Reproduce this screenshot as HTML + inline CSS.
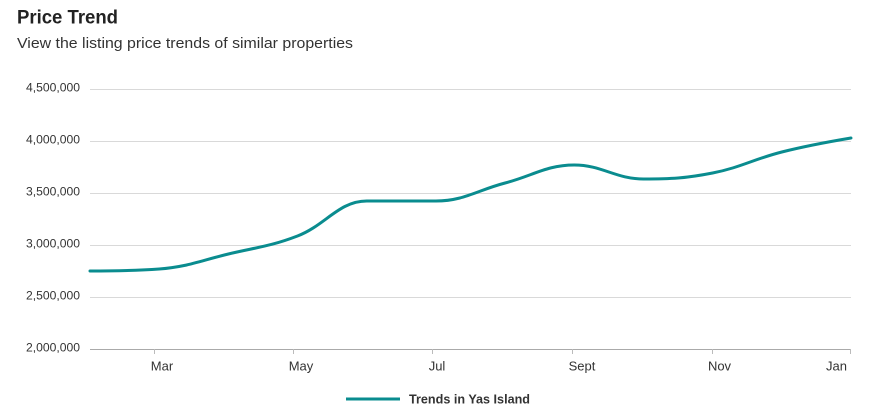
<!DOCTYPE html>
<html><head><meta charset="utf-8"><style>
html,body{margin:0;padding:0;background:#fff;}
svg{display:block;}
</style></head><body>
<svg width="870" height="420" viewBox="0 0 870 420" xmlns="http://www.w3.org/2000/svg" font-family="Liberation Sans, sans-serif">
<rect width="870" height="420" fill="#fff"/>
<text x="17" y="23.5" font-size="19.5" font-weight="bold" fill="#222" textLength="101" lengthAdjust="spacingAndGlyphs">Price Trend</text>
<text x="17" y="48" font-size="15" fill="#333" textLength="336" lengthAdjust="spacingAndGlyphs">View the listing price trends of similar properties</text>
<g stroke="#d9d9d9" stroke-width="1">
<line x1="90" y1="89.5" x2="851" y2="89.5"/>
<line x1="90" y1="141.5" x2="851" y2="141.5"/>
<line x1="90" y1="193.5" x2="851" y2="193.5"/>
<line x1="90" y1="245.5" x2="851" y2="245.5"/>
<line x1="90" y1="297.5" x2="851" y2="297.5"/>
</g>
<line x1="90" y1="349.5" x2="851" y2="349.5" stroke="#aaa" stroke-width="1"/>
<g stroke="#bbb" stroke-width="1">
<line x1="154.5" y1="349" x2="154.5" y2="354"/>
<line x1="293.5" y1="349" x2="293.5" y2="354"/>
<line x1="432.5" y1="349" x2="432.5" y2="354"/>
<line x1="572.5" y1="349" x2="572.5" y2="354"/>
<line x1="712.5" y1="349" x2="712.5" y2="354"/>
<line x1="850.5" y1="349" x2="850.5" y2="354"/>
</g>
<g font-size="11.5" fill="#333">
<text x="26" y="91.5" textLength="54" lengthAdjust="spacingAndGlyphs">4,500,000</text>
<text x="26" y="143.5" textLength="54" lengthAdjust="spacingAndGlyphs">4,000,000</text>
<text x="26" y="195.5" textLength="54" lengthAdjust="spacingAndGlyphs">3,500,000</text>
<text x="26" y="247.5" textLength="54" lengthAdjust="spacingAndGlyphs">3,000,000</text>
<text x="26" y="299.5" textLength="54" lengthAdjust="spacingAndGlyphs">2,500,000</text>
<text x="26" y="351.5" textLength="54" lengthAdjust="spacingAndGlyphs">2,000,000</text>
</g>
<g font-size="13" fill="#333" text-anchor="middle">
<text x="162" y="370.5">Mar</text>
<text x="301" y="370.5">May</text>
<text x="437" y="370.5">Jul</text>
<text x="582" y="370.5">Sept</text>
<text x="719.5" y="370.5">Nov</text>
<text x="836.5" y="370.5">Jan</text>
</g>
<path d="M90 271 C90 271 131.5 271 159.2 269 C186.9 267 200.7 260.6 228.4 254 C256.1 247.4 269.8 246.6 297.5 236 C325.2 225.4 339 201 366.7 201 C394.4 201 408.2 201 435.9 201 C463.6 201 477.4 190.2 505.1 183 C532.8 175.8 546.6 165 574.3 165 C602 165 615.7 179 643.4 179 C671.1 179 684.9 178.4 712.6 173 C740.3 167.6 754.1 159 781.8 152 C809.5 145 851 138 851 138" fill="none" stroke="#0a8c8f" stroke-width="3" stroke-linecap="round" stroke-linejoin="round"/>
<line x1="346" y1="399" x2="400" y2="399" stroke="#0a8c8f" stroke-width="3"/>
<text x="409" y="403.5" font-size="12.5" font-weight="bold" fill="#333" textLength="121" lengthAdjust="spacingAndGlyphs">Trends in Yas Island</text>
</svg>
</body></html>
